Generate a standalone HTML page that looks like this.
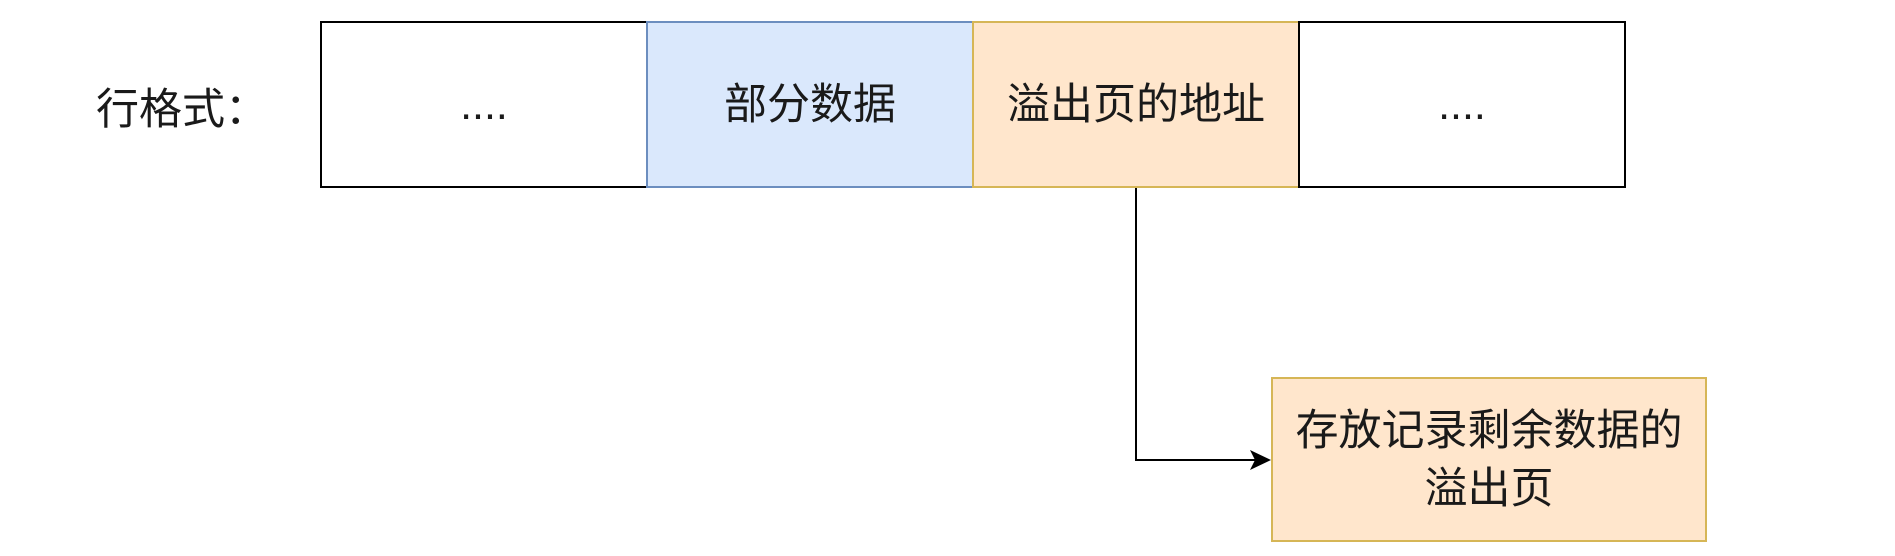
<!DOCTYPE html>
<html><head><meta charset="utf-8"><style>
body{margin:0;width:1895px;height:556px;background:#fff;position:relative;overflow:hidden;font-family:"Liberation Sans","Noto Sans CJK SC",sans-serif;color:#1a1a1a}
.b{position:absolute;box-sizing:border-box;display:flex;align-items:center;justify-content:center;text-align:center;font-size:43px;line-height:58px}
</style></head><body>
<div class="b" style="left:60px;top:80px;width:250px;height:60px;justify-content:flex-start;padding-left:36px">行格式：</div>
<div class="b" style="left:320px;top:21px;width:328px;height:167px;border:2px solid #000">....</div>
<div class="b" style="left:646px;top:21px;width:328px;height:167px;border:2px solid #6c8ebf;background:#dae8fc">部分数据</div>
<div class="b" style="left:972px;top:21px;width:328px;height:167px;border:2px solid #d6b656;background:#ffe6cc">溢出页的地址</div>
<div class="b" style="left:1298px;top:21px;width:328px;height:167px;border:2px solid #000">....</div>
<div class="b" style="left:1271px;top:377px;width:436px;height:165px;border:2px solid #d6b656;background:#ffe6cc">存放记录剩余数据的<br>溢出页</div>
<svg style="position:absolute;left:0;top:0" width="1895" height="556">
<polyline points="1136,188 1136,460 1256,460" fill="none" stroke="#000" stroke-width="2"/>
<polygon points="1271,460 1250,450 1255,460 1250,470" fill="#000"/>
</svg>
</body></html>
